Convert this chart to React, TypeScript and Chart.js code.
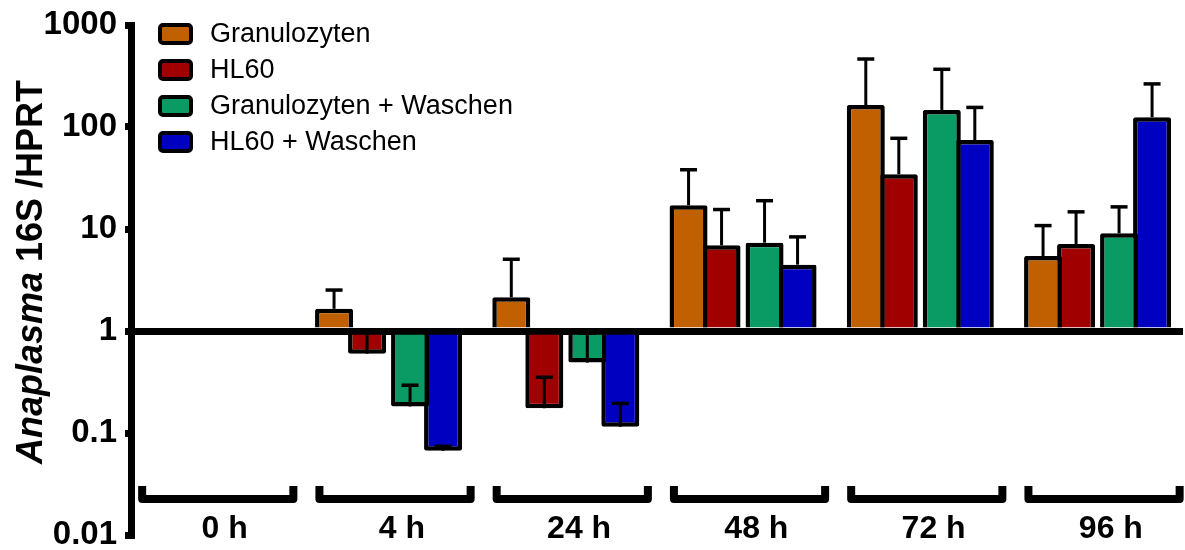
import React, { useEffect, useRef } from 'react';
import { Chart, registerables } from 'chart.js';

Chart.register(...registerables);

const FONT = '"Liberation Sans", Arial, Helvetica, sans-serif';

// Time points after infection
const categories = ['0 h', '4 h', '24 h', '48 h', '72 h', '96 h'];

// Series names and fill colours
const seriesLabels = ['Granulozyten', 'HL60', 'Granulozyten + Waschen', 'HL60 + Waschen'];
const seriesColors = ['#C06000', '#A00000', '#0A9B64', '#0000C0'];

// Mean ratio Anaplasma 16S / HPRT (0 h is the reference = 1)
const granulozyten = [1, 1.65, 2.14, 17.1, 164, 5.44];
const hl60 = [1, 0.6, 0.175, 6.92, 34.4, 7.13];
const granulozytenWaschen = [1, 0.182, 0.49, 7.34, 147, 9.08];
const hl60Waschen = [1, 0.067, 0.115, 4.47, 74.6, 124.5];

// Standard deviations (plotted upwards only)
const granulozytenSD = [null, 0.87, 2.91, 21.0, 300, 5.36];
const hl60SD = [null, 0.37, 0.177, 8.6, 43.1, 7.6];
const granulozytenWaschenSD = [null, 0.112, 0.46, 11.6, 221, 7.4];
const hl60WaschenSD = [null, 0.007, 0.08, 3.9, 81, 140];

// Y axis ticks
const yTickValues = [0.01, 0.1, 1, 10, 100, 1000];
const yTickLabels = ['0.01', '0.1', '1', '10', '100', '1000'];

const seriesValues = [granulozyten, hl60, granulozytenWaschen, hl60Waschen];
const seriesSD = [granulozytenSD, hl60SD, granulozytenWaschenSD, hl60WaschenSD];

// position of each bar inside its time-point group (x units)
const barOffsets = [-0.3075, -0.1213, 0.1213, 0.3075];
// horizontal shift of the group label relative to the group centre
const labelShift = 0.075;

const errorBarPlugin = {
  id: 'errorBars',
  afterDatasetsDraw(chart: any) {
    const { ctx } = chart;
    const yScale = chart.scales.y;
    ctx.save();
    ctx.strokeStyle = '#000';
    ctx.lineCap = 'butt';
    chart.data.datasets.forEach((ds: any, di: number) => {
      const meta = chart.getDatasetMeta(di);
      const sd = seriesSD[di];
      meta.data.forEach((bar: any, i: number) => {
        const e = sd[i];
        if (e == null) return;
        const top = yScale.getPixelForValue(ds.data[i].y + e);
        const x = bar.x;
        ctx.lineWidth = 3;
        ctx.beginPath();
        ctx.moveTo(x, bar.y);
        ctx.lineTo(x, top);
        ctx.stroke();
        ctx.lineWidth = 3.5;
        ctx.beginPath();
        ctx.moveTo(x - 8.5, top);
        ctx.lineTo(x + 8.5, top);
        ctx.stroke();
      });
    });
    ctx.restore();
  },
};

const decorPlugin = {
  id: 'decor',
  afterDraw(chart: any) {
    const { ctx } = chart;
    const xs = chart.scales.x;
    const ys = chart.scales.y;

    // group brackets and time-point labels under each group
    const yb = ys.getPixelForValue(0.0225);
    ctx.save();
    ctx.strokeStyle = '#000';
    ctx.fillStyle = '#000';
    ctx.lineWidth = 8;
    ctx.lineJoin = 'round';
    ctx.lineCap = 'butt';
    ctx.font = `bold 32px ${FONT}`;
    ctx.textAlign = 'center';
    ctx.textBaseline = 'middle';
    categories.forEach((label, i) => {
      const x0 = xs.getPixelForValue(i - 0.39);
      const x1 = xs.getPixelForValue(i + 0.463);
      ctx.beginPath();
      ctx.moveTo(x0, yb - 13);
      ctx.lineTo(x0, yb);
      ctx.lineTo(x1, yb);
      ctx.lineTo(x1, yb - 13);
      ctx.stroke();
      ctx.fillText(label, xs.getPixelForValue(i + labelShift), yb + 30);
    });
    ctx.restore();

    // legend
    ctx.save();
    chart.data.datasets.forEach((ds: any, i: number) => {
      const cy = 34 + i * 36;
      ctx.beginPath();
      ctx.roundRect(160, cy - 9, 31, 18, 3);
      ctx.fillStyle = ds.backgroundColor;
      ctx.fill();
      ctx.lineWidth = 4;
      ctx.strokeStyle = '#000';
      ctx.stroke();
      ctx.fillStyle = '#000';
      ctx.font = `27px ${FONT}`;
      ctx.textAlign = 'left';
      ctx.textBaseline = 'middle';
      ctx.fillText(ds.label, 210, cy + 1);
    });
    ctx.restore();

    // y axis title with italic genus name
    ctx.save();
    ctx.translate(42, 272);
    ctx.rotate(-Math.PI / 2);
    ctx.fillStyle = '#000';
    ctx.textBaseline = 'alphabetic';
    ctx.textAlign = 'left';
    const p1 = 'Anaplasma';
    const p2 = ' 16S /HPRT';
    const f1 = `italic bold 36px ${FONT}`;
    const f2 = `bold 36px ${FONT}`;
    ctx.font = f1;
    const w1 = ctx.measureText(p1).width;
    ctx.font = f2;
    const w2 = ctx.measureText(p2).width;
    const start = -(w1 + w2) / 2;
    ctx.font = f1;
    ctx.fillText(p1, start, 0);
    ctx.font = f2;
    ctx.fillText(p2, start + w1, 0);
    ctx.restore();
  },
};

export default function App() {
  const canvasRef = useRef<HTMLCanvasElement | null>(null);

  useEffect(() => {
    document.body.style.margin = '0';
    const canvas = canvasRef.current;
    if (!canvas) return;

    const datasets = seriesLabels.map((label, k) => ({
      type: 'bar' as const,
      label,
      data: seriesValues[k].map((v, i) => ({ x: i + barOffsets[k], y: v })),
      backgroundColor: seriesColors[k],
      borderColor: '#000',
      borderWidth: 4.5,
      borderRadius: 2,
      base: 1,
      grouped: false,
      categoryPercentage: 1,
      barPercentage: 1.2,
      maxBarThickness: 38,
    }));

    const chart = new Chart(canvas, {
      type: 'bar',
      data: { datasets },
      options: {
        animation: false,
        responsive: false,
        devicePixelRatio: 1,
        events: [],
        layout: { padding: { top: 25, right: 2, bottom: 0, left: 0 } },
        plugins: {
          legend: { display: false },
          tooltip: { enabled: false },
          title: { display: false },
        },
        scales: {
          x: {
            type: 'linear',
            position: 'bottom',
            offset: false,
            min: -0.453,
            max: 5.482,
            grid: { display: false, drawTicks: false },
            border: { display: false },
            afterBuildTicks: (s: any) => {
              s.ticks = categories.map((_, i) => ({ value: i + labelShift }));
            },
            afterFit: (s: any) => {
              s.height = 15;
              s.paddingLeft = 0;
              s.paddingRight = 0;
            },
            ticks: { display: false },
          },
          y: {
            type: 'logarithmic',
            position: 'left',
            min: 0.01,
            max: 1000,
            z: 1,
            afterBuildTicks: (s: any) => {
              s.ticks = yTickValues.map((v) => ({ value: v }));
            },
            afterFit: (s: any) => {
              s.width = 131;
              s.paddingTop = 0;
              s.paddingBottom = 0;
            },
            grid: {
              drawOnChartArea: true,
              drawTicks: true,
              color: (c: any) => (c.tick && c.tick.value === 1 ? '#000' : 'rgba(0,0,0,0)'),
              lineWidth: 7,
              tickColor: '#000',
              tickWidth: 7,
              tickLength: 6,
            },
            border: { display: true, color: '#000', width: 7 },
            ticks: {
              padding: 8,
              color: '#000',
              font: { family: FONT, size: 33, weight: 'bold' },
              callback: (_v: any, i: number) => yTickLabels[i],
            },
          },
        },
      } as any,
      plugins: [errorBarPlugin, decorPlugin],
    });

    return () => chart.destroy();
  }, []);

  return (
    <div style={{ width: 1185, height: 550, position: 'relative', background: '#fff' }}>
      <canvas ref={canvasRef} width={1185} height={550} style={{ display: 'block' }} />
    </div>
  );
}
